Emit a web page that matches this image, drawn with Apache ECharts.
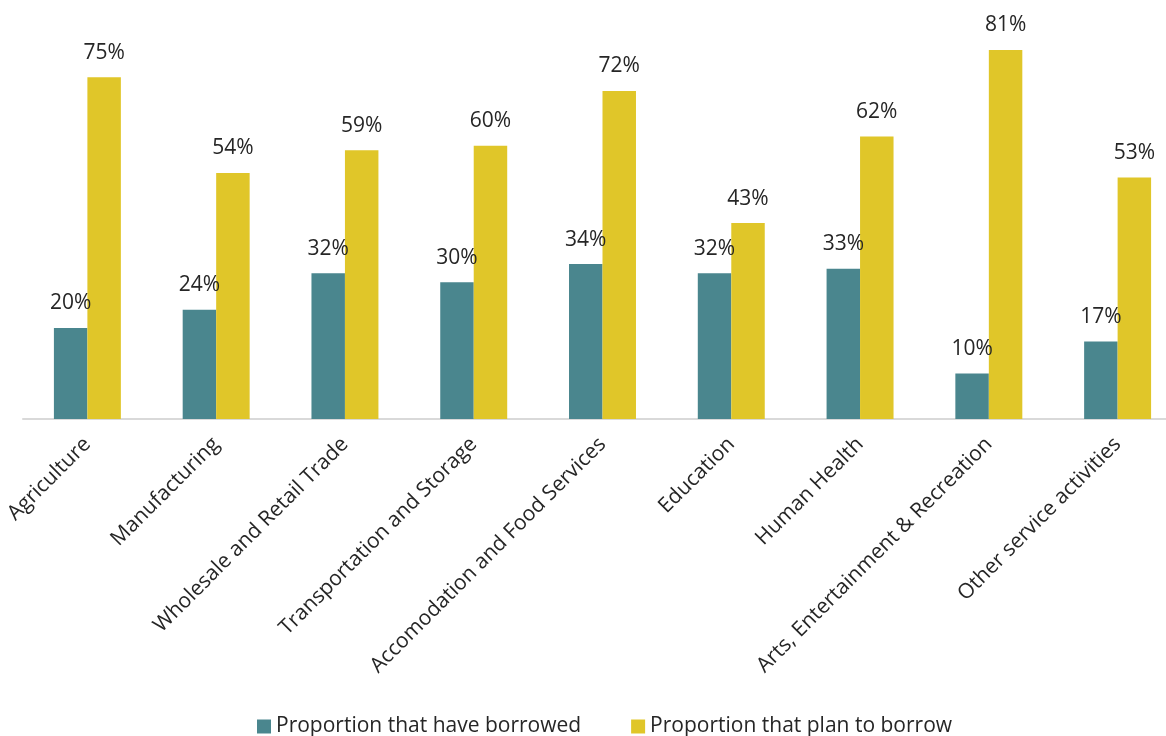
<!DOCTYPE html>
<html><head><meta charset="utf-8">
<script src="https://cdn.jsdelivr.net/npm/echarts@6/dist/echarts.min.js"></script>
<style>html,body{margin:0;padding:0;background:#fff}#c{width:1166px;height:736px}</style>
</head><body><div id="c"></div>
<script>
const categories = ["Agriculture","Manufacturing","Wholesale and Retail Trade","Transportation and Storage","Accomodation and Food Services","Education","Human Health","Arts, Entertainment & Recreation","Other service activities"];
const borrowed = [20,24,32,30,34,32,33,10,17];
const planToBorrow = [75,54,59,60,72,43,62,81,53];
const seriesNames = ["Proportion that have borrowed","Proportion that plan to borrow"];

const FONT = "'Open Sans', 'Noto Sans', sans-serif";
const chart = echarts.init(document.getElementById('c'), null, {renderer:'canvas'});
const lbl = {show:true, position:'top', distance:14, formatter:'{c}%', color:'#262626', fontSize:21, fontFamily:FONT};
chart.setOption({
  animation:false,
  textStyle:{fontFamily:FONT},
  grid:{left:23, top:9, width:1159, bottom:317, containLabel:false, outerBoundsMode:'none'},
  legend:{top:711, left:252, itemWidth:14, itemHeight:14, itemGap:50, icon:'rect',
    textStyle:{fontSize:21, color:'#262626', fontFamily:FONT}, data:seriesNames},
  xAxis:{type:'category', data:categories,
    axisLine:{lineStyle:{color:'#d9d9d9', width:2}}, axisTick:{show:false},
    axisLabel:{rotate:45, interval:0, margin:22, fontSize:21, color:'#262626', fontFamily:FONT}},
  yAxis:{type:'value', min:0, max:90, show:false, splitLine:{show:false}},
  series:[
    {name:seriesNames[0], type:'bar', data:borrowed, barGap:'0%', barCategoryGap:'48%',
     itemStyle:{color:'#4a868e'}, label:lbl},
    {name:seriesNames[1], type:'bar', data:planToBorrow, barGap:'0%', barCategoryGap:'48%',
     itemStyle:{color:'#e0c629'}, label:lbl}
  ]
});
</script></body></html>
